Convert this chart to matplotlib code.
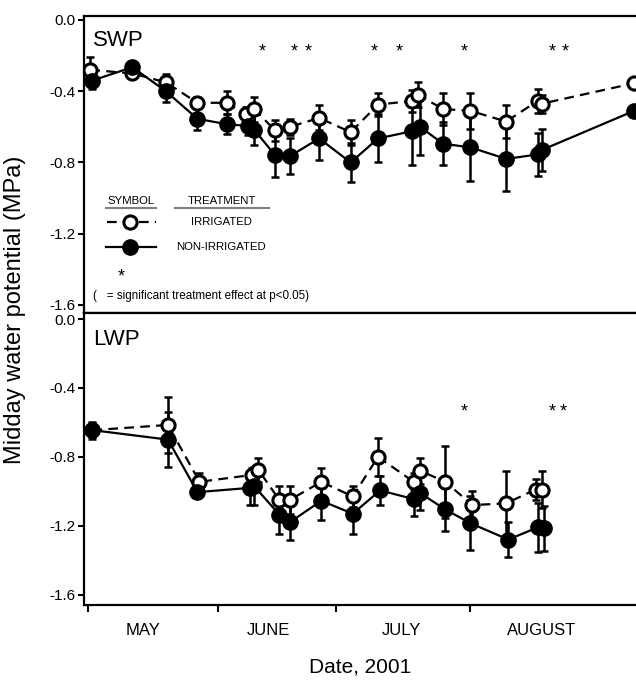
import matplotlib
matplotlib.use("Agg")
import matplotlib.pyplot as plt
from matplotlib.lines import Line2D

plt.rcParams['font.family'] = ['Liberation Sans', 'DejaVu Sans']
plt.rcParams['lines.scale_dashes'] = False

# ---- Stem water potential (SWP), day of year 2001, MPa ----
swp_irr_day = [121.5, 131.5, 139.5, 147, 154, 158.5, 160.5, 165.5, 169, 176, 183.5,
               190, 198, 199.5, 205.5, 212, 220.5, 228, 229, 251]
swp_irr = [-0.28, -0.30, -0.35, -0.465, -0.465, -0.53, -0.50, -0.62, -0.60, -0.55, -0.63,
           -0.475, -0.455, -0.42, -0.50, -0.51, -0.57, -0.455, -0.47, -0.355]
swp_irr_err = [0.07, 0.02, 0.045, 0.03, 0.065, 0.04, 0.07, 0.06, 0.045, 0.07, 0.07,
               0.065, 0.06, 0.07, 0.09, 0.10, 0.09, 0.065, 0.05, 0.02]

swp_non_day = [122, 131.5, 139.5, 147, 154, 159, 160.5, 165.5, 169, 176, 183.5,
               190, 198, 200, 205.5, 212, 220.5, 228, 229, 251]
swp_non = [-0.34, -0.265, -0.40, -0.555, -0.585, -0.595, -0.615, -0.76, -0.765, -0.665, -0.80,
           -0.665, -0.625, -0.60, -0.695, -0.715, -0.78, -0.755, -0.73, -0.51]
swp_non_err = [0.05, 0.02, 0.06, 0.06, 0.055, 0.05, 0.085, 0.12, 0.10, 0.12, 0.11,
               0.135, 0.19, 0.16, 0.12, 0.19, 0.18, 0.12, 0.12, 0.02]

swp_sig_day = [162.5, 170, 173.5, 189, 195, 210.5, 231.5, 234.5]
swp_sig_level = -0.156

# ---- Leaf water potential (LWP) ----
lwp_irr_day = [122, 140, 147.5, 160, 161.5, 166.5, 169, 176.5, 184, 190, 198.5,
               200, 206, 212.5, 220.5, 227.5, 229]
lwp_irr = [-0.645, -0.615, -0.945, -0.905, -0.875, -1.05, -1.05, -0.945, -1.03, -0.80, -0.945,
           -0.88, -0.945, -1.08, -1.07, -0.99, -0.99]
lwp_irr_err = [0.04, 0.165, 0.05, 0.04, 0.07, 0.08, 0.08, 0.08, 0.06, 0.11, 0.05,
               0.075, 0.21, 0.08, 0.19, 0.06, 0.105]

lwp_non_day = [122, 140, 147, 159.5, 160.5, 166.5, 169, 176.5, 184, 190.5, 198.5,
               200, 206, 212, 221, 228, 229.5]
lwp_non = [-0.645, -0.70, -1.005, -0.98, -0.97, -1.135, -1.18, -1.055, -1.13, -0.995, -1.045,
           -1.01, -1.105, -1.185, -1.28, -1.21, -1.215]
lwp_non_err = [0.05, 0.16, 0.03, 0.10, 0.11, 0.11, 0.10, 0.11, 0.115, 0.085, 0.10,
               0.10, 0.125, 0.155, 0.10, 0.14, 0.13]

lwp_sig_day = [210.5, 231.5, 234]
lwp_sig_level = -0.516

# ---- Axis labelling ----
ytick_values = [0.0, -0.4, -0.8, -1.2, -1.6]
ytick_labels = ['0.0', '-0.4', '-0.8', '-1.2', '-1.6']
month_tick_days = [121, 152, 180, 212]
month_label_days = [134, 164, 195.5, 229]
month_labels = ['MAY', 'JUNE', 'JULY', 'AUGUST']

W, H = 636, 680
fig = plt.figure(figsize=(W / 100, H / 100), dpi=100)


def fx(px):
    return px / W


def fy(py):
    return 1 - py / H


ax_left, ax_right = 84, 636
ax_top = fig.add_axes([fx(ax_left), fy(313), fx(ax_right) - fx(ax_left), fy(15.7) - fy(313)])
ax_bot = fig.add_axes([fx(ax_left), fy(605), fx(ax_right) - fx(ax_left), fy(313) - fy(605)])

DASH = (0, (7, 4.5))


def draw_panel(ax, xi, yi, ei, xn, yn, en, ylim, name, name_y):
    ebkw = dict(fmt='none', ecolor='black', elinewidth=1.8, capsize=2.6, capthick=1.8, zorder=2)
    ax.errorbar(xi, yi, yerr=ei, **ebkw)
    ax.errorbar(xn, yn, yerr=en, **ebkw)
    ax.plot(xi, yi, color='black', lw=1.6, ls=DASH, marker='o', ms=9.5,
            mfc='white', mec='black', mew=2.2, zorder=3)
    ax.plot(xn, yn, color='black', lw=1.6, ls='-', marker='o', ms=11,
            mfc='black', mec='black', zorder=4)
    ax.set_xlim(120, 120 + (ax_right - ax_left) / 4.2)
    ax.set_ylim(*ylim)
    ax.set_yticks(ytick_values)
    ax.set_yticklabels(ytick_labels)
    ax.tick_params(axis='y', direction='out', length=4, width=1.5, labelsize=11, pad=2)
    for side in ('left', 'top', 'bottom'):
        ax.spines[side].set_linewidth(1.6)
    ax.spines['right'].set_visible(False)
    fig.text(fx(93), fy(name_y), name, fontsize=16, ha='left', va='baseline')


def draw_stars(ax, days, level):
    for d in days:
        ax.annotate('*', (d, level), xytext=(0, -6.5), textcoords='offset points',
                    ha='center', va='baseline', fontsize=13)


draw_panel(ax_top, swp_irr_day, swp_irr, swp_irr_err, swp_non_day, swp_non, swp_non_err,
           (-1.645, 0.024), 'SWP', 46.5)
draw_panel(ax_bot, lwp_irr_day, lwp_irr, lwp_irr_err, lwp_non_day, lwp_non, lwp_non_err,
           (-1.66, 0.035), 'LWP', 345)
draw_stars(ax_top, swp_sig_day, swp_sig_level)
draw_stars(ax_bot, lwp_sig_day, lwp_sig_level)

ax_top.set_xticks([])
ax_bot.set_xticks(month_tick_days)
ax_bot.set_xticklabels([''] * len(month_tick_days))
ax_bot.set_xticks(month_label_days, minor=True)
ax_bot.set_xticklabels(month_labels, minor=True)
ax_bot.tick_params(axis='x', which='major', direction='out', length=5, width=1.5)
ax_bot.tick_params(axis='x', which='minor', length=0, labelsize=12, pad=13)

fig.text(fx(15), fy(310), 'Midday water potential (MPa)', rotation=90,
         ha='center', va='center', fontsize=17)
fig.text(fx(360), fy(667), 'Date, 2001', ha='center', va='center', fontsize=15)

# ---- Key drawn inside the SWP panel ----
leg_fs = 8.2
fig.text(fx(131), fy(204.5), 'SYMBOL', ha='center', va='baseline', fontsize=leg_fs)
fig.text(fx(221.7), fy(204.5), 'TREATMENT', ha='center', va='baseline', fontsize=leg_fs)
fig.add_artist(Line2D([fx(106), fx(156)], [fy(207.5), fy(207.5)], color='#808080', lw=1.5))
fig.add_artist(Line2D([fx(175), fx(269)], [fy(207.5), fy(207.5)], color='#808080', lw=1.5))
fig.add_artist(Line2D([fx(107), fx(156)], [fy(221.7), fy(221.7)], color='black', lw=1.6, ls=DASH))
fig.add_artist(Line2D([fx(130)], [fy(221.7)], color='black', marker='o', ms=9.5,
                      mfc='white', mec='black', mew=2.2))
fig.text(fx(221.7), fy(221.7), 'IRRIGATED', ha='center', va='center', fontsize=leg_fs)
fig.add_artist(Line2D([fx(106), fx(156)], [fy(247.3), fy(247.3)], color='black', lw=1.6))
fig.add_artist(Line2D([fx(130)], [fy(247.3)], color='black', marker='o', ms=11,
                      mfc='black', mec='black'))
fig.text(fx(221), fy(247.3), 'NON-IRRIGATED', ha='center', va='center', fontsize=leg_fs)
fig.text(fx(121), fy(281), '*', ha='center', va='baseline', fontsize=13)
fig.text(fx(93), fy(295.7), '(   = significant treatment effect at p<0.05)',
         ha='left', va='center', fontsize=8.4)

fig.savefig('out.png', dpi=100)
